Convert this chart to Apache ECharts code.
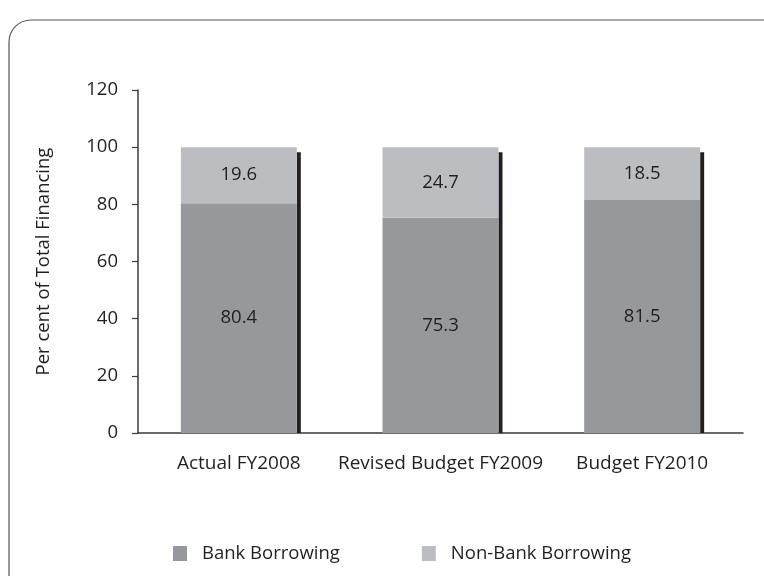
<!DOCTYPE html>
<html>
<head>
<meta charset="utf-8">
<script src="https://cdn.jsdelivr.net/npm/echarts@6/dist/echarts.min.js"></script>
<style>
html,body{margin:0;padding:0;background:#fff;}
#chart{width:764px;height:576px;}
</style>
</head>
<body>
<div id="chart"></div>
<script>
const categories = ['Actual FY2008', 'Revised Budget FY2009', 'Budget FY2010'];
const bankBorrowing = [80.4, 75.3, 81.5];
const nonBankBorrowing = [19.6, 24.7, 18.5];
const seriesNames = ['Bank Borrowing', 'Non-Bank Borrowing'];
const yTicks = {min: 0, max: 120, interval: 20};

const FONT = 'Open Sans';
const FS = 18.5;
const TXT = '#231f20';
const BAR_W = 0.575;

const shadowData = categories.map((c, i) => [i, bankBorrowing[i] + nonBankBorrowing[i]]);

const chart = echarts.init(document.getElementById('chart'), null, {renderer: 'canvas'});
chart.setOption({
  animation: false,
  backgroundColor: '#ffffff',
  textStyle: {fontFamily: FONT, color: TXT},
  graphic: [{
    type: 'rect',
    silent: true,
    z: -10,
    shape: {x: 9, y: 20, width: 790, height: 600, r: 22},
    style: {fill: 'none', stroke: '#555555', lineWidth: 1.2}
  }],
  grid: {left: 138, right: 21, top: 90, bottom: 143, containLabel: false},
  legend: {
    data: seriesNames,
    left: 168,
    top: 539,
    itemWidth: 14,
    itemHeight: 15,
    itemGap: 82,
    icon: 'rect',
    textStyle: {fontFamily: FONT, fontSize: FS, color: TXT, padding: [0, 0, 0, 10]}
  },
  xAxis: {
    type: 'category',
    data: categories,
    axisLine: {lineStyle: {color: '#3a3a3a', width: 1.5}},
    axisTick: {show: false},
    axisLabel: {fontFamily: FONT, fontSize: 19, color: TXT, margin: 21, interval: 0}
  },
  yAxis: {
    type: 'value',
    min: yTicks.min,
    max: yTicks.max,
    interval: yTicks.interval,
    name: 'Per cent of Total Financing',
    nameLocation: 'middle',
    nameGap: 85,
    nameRotate: 90,
    nameTextStyle: {fontFamily: FONT, fontSize: FS, color: TXT},
    axisLine: {show: true, lineStyle: {color: '#3a3a3a', width: 1.5}},
    axisTick: {show: true, length: 6, lineStyle: {color: '#3a3a3a', width: 1.2}},
    splitLine: {show: false},
    axisLabel: {fontFamily: FONT, fontSize: FS, color: TXT, margin: 20}
  },
  series: [
    {
      name: seriesNames[0],
      type: 'bar',
      stack: 'total',
      barWidth: (BAR_W * 100) + '%',
      data: bankBorrowing,
      itemStyle: {color: '#97989c'},
      label: {show: true, position: 'inside', fontFamily: FONT, fontSize: FS, color: TXT,
        formatter: p => p.value.toFixed(1)}
    },
    {
      name: seriesNames[1],
      type: 'bar',
      stack: 'total',
      barWidth: (BAR_W * 100) + '%',
      data: nonBankBorrowing,
      itemStyle: {color: '#bcbdc1'},
      label: {show: true, position: 'inside', fontFamily: FONT, fontSize: FS, color: TXT,
        formatter: p => p.value.toFixed(1)}
    },
    {
      name: 'shadow',
      type: 'custom',
      silent: true,
      data: shadowData,
      encode: {x: 0, y: 1},
      renderItem: function (params, api) {
        const top = api.coord([api.value(0), api.value(1)]);
        const base = api.coord([api.value(0), 0]);
        const bw = api.size([1, 0])[0] * BAR_W;
        const x = top[0] + bw / 2;
        const y = top[1] + 5;
        return {
          type: 'rect',
          shape: {x: x, y: y, width: 4, height: base[1] - y},
          style: {fill: '#231f20'}
        };
      }
    }
  ]
});
</script>
</body>
</html>
